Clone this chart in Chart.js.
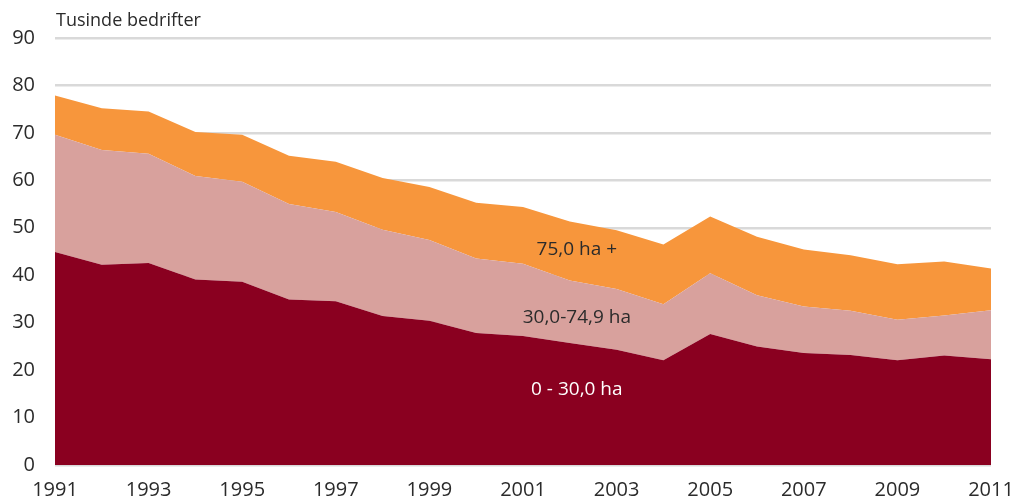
<!DOCTYPE html>
<html>
<head>
<meta charset="utf-8">
<script src="https://cdn.jsdelivr.net/npm/chart.js@4/dist/chart.umd.min.js"></script>
<style>
  html, body { margin: 0; padding: 0; background: #fff; }
  #wrap { width: 1029px; height: 501px; position: relative; }
</style>
</head>
<body>
<div id="wrap"><canvas id="chart"></canvas></div>
<script>
// Data (tusinde bedrifter)
const years = ['1991','1992','1993','1994','1995','1996','1997','1998','1999','2000',
               '2001','2002','2003','2004','2005','2006','2007','2008','2009','2010','2011'];
const small = [44.9, 42.2, 42.6, 39.1, 38.6, 34.9, 34.5, 31.4, 30.4, 27.8, 27.2, 25.7, 24.3, 22.1, 27.6, 25.0, 23.6, 23.2, 22.1, 23.1, 22.3];
const medium = [24.7, 24.2, 23.0, 21.8, 21.1, 20.1, 18.8, 18.2, 17.0, 15.7, 15.2, 13.2, 12.8, 11.8, 12.8, 10.8, 9.8, 9.3, 8.5, 8.4, 10.3];
const large = [8.3, 8.8, 8.9, 9.3, 9.9, 10.2, 10.6, 10.9, 11.2, 11.8, 12.0, 12.4, 12.4, 12.6, 12.0, 12.3, 12.0, 11.7, 11.7, 11.4, 8.8];
const seriesNames = ['0 - 30,0 ha', '30,0-74,9 ha', '75,0 ha +'];
const yTicks = [0, 10, 20, 30, 40, 50, 60, 70, 80, 90];

const FONT = '"Open Sans", sans-serif';

// In-chart labels: [text, x index, y value, color]
const areaLabels = [
    ['75,0 ha +', 11.15, 45.4, '#2b2b2b'],
    ['30,0-74,9 ha', 11.15, 31.0, '#2b2b2b'],
    ['0 - 30,0 ha', 11.15, 15.8, '#ffffff']
];

const labelPlugin = {
    id: 'labels',
    afterDatasetsDraw(chart) {
        const ctx = chart.ctx;
        const xs = chart.scales.x, ys = chart.scales.y;
        ctx.save();
        ctx.font = '19px ' + FONT;
        ctx.textAlign = 'center';
        ctx.textBaseline = 'middle';
        areaLabels.forEach(([text, xi, yv, color]) => {
            ctx.fillStyle = color;
            ctx.fillText(text, xs.getPixelForValue(xi), ys.getPixelForValue(yv));
        });
        // unit title
        ctx.fillStyle = '#2b2b2b';
        ctx.font = '18px ' + FONT;
        ctx.textAlign = 'left';
        ctx.fillText('Tusinde bedrifter', 56, 21);
        ctx.restore();
    }
};

const ctx = document.getElementById('chart').getContext('2d');
new Chart(ctx, {
    type: 'line',
    data: {
        labels: years,
        datasets: [
            { label: seriesNames[0], data: small, backgroundColor: '#8a0020', fill: 'origin' },
            { label: seriesNames[1], data: medium, backgroundColor: '#d8a19d', fill: '-1' },
            { label: seriesNames[2], data: large, backgroundColor: '#f7963c', fill: '-1' }
        ].map(d => Object.assign(d, { borderWidth: 0, pointRadius: 0, tension: 0, borderColor: d.backgroundColor }))
    },
    options: {
        responsive: true,
        maintainAspectRatio: false,
        animation: false,
        layout: { padding: { top: 38, right: 38, left: 0, bottom: 0 } },
        plugins: {
            legend: { display: false },
            tooltip: { enabled: false }
        },
        scales: {
            x: {
                offset: false,
                grid: { display: false, drawTicks: false },
                border: { display: false },
                afterFit: (s) => { s.height = 36; },
                ticks: {
                    autoSkip: false,
                    maxRotation: 0,
                    padding: 13,
                    color: '#2b2b2b',
                    font: { family: FONT, size: 20 },
                    callback: (v, i) => (i % 2 === 0 ? years[i] : '')
                }
            },
            y: {
                stacked: true,
                min: 0,
                max: 90,
                afterFit: (s) => { s.width = 55; },
                afterBuildTicks: (s) => { s.ticks = yTicks.map(v => ({ value: v })); },
                grid: { color: '#d9d9d9', lineWidth: 2.5, drawTicks: false },
                border: { display: false },
                ticks: {
                    padding: 20,
                    color: '#2b2b2b',
                    font: { family: FONT, size: 20 }
                }
            }
        }
    },
    plugins: [labelPlugin]
});
</script>
</body>
</html>
